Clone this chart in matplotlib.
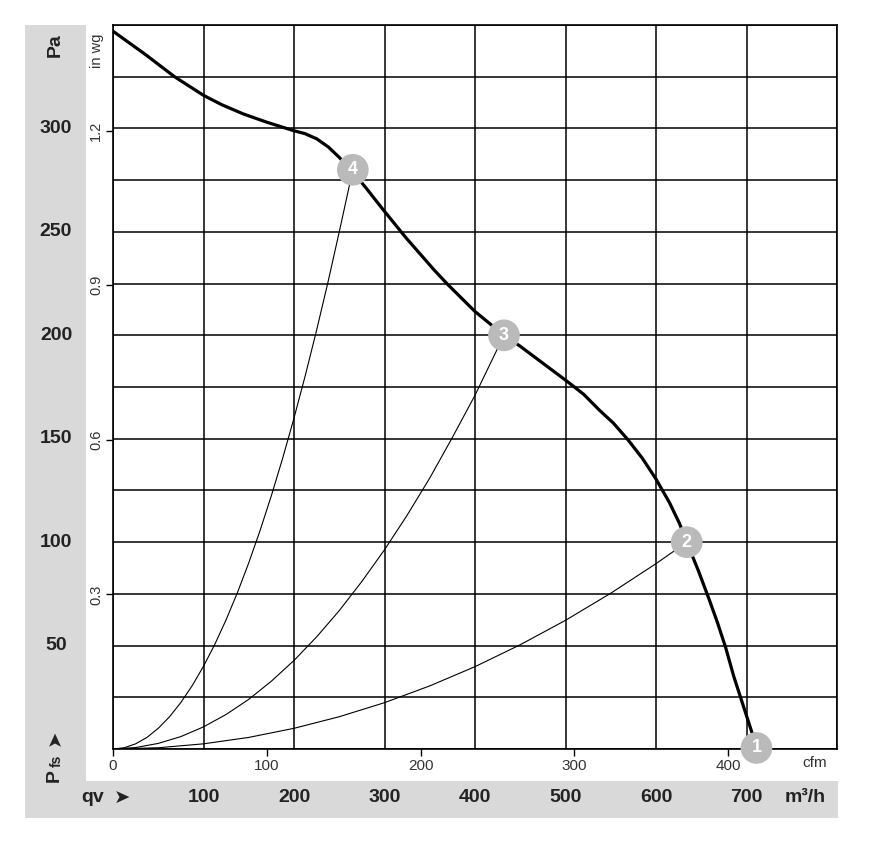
import matplotlib
matplotlib.use("Agg")
import matplotlib.pyplot as plt
import matplotlib.transforms as mtransforms
from matplotlib.patches import Rectangle

plt.rcParams["font.family"] = ["Liberation Sans", "DejaVu Sans"]

# Fan curve (m3/h, Pa)
fan_q = [0, 35, 68, 100, 120, 144, 170, 199, 212, 225, 238, 250, 265, 280, 298,
         324, 340, 355, 370, 400, 432, 449, 475, 501, 520, 537, 553, 569, 585,
         600, 615, 626, 634, 647, 659, 668, 677, 686, 696, 706, 711]
fan_p = [347, 336, 325, 316, 311.5, 307, 303, 299, 297.5, 295, 291, 286, 279, 271,
         261, 247, 239, 231.5, 224.5, 211.5, 200, 195, 186.5, 178, 171.5, 164,
         157.5, 149.5, 140.5, 130.5, 119, 109, 100, 86, 72, 61, 49, 35, 21.5, 8, 1]

# System curves towards operating points 4, 3, 2
sys4_q = [0, 12.5, 25, 37.5, 50, 62.5, 75, 87.5, 100, 112.5, 125, 137.5, 150,
          162.5, 175, 187.5, 200, 212.5, 225, 237.5, 250, 265]
sys4_p = [0, 0.6, 2.5, 5.6, 10, 15.6, 22.5, 30.6, 40, 50.6, 62.5, 75.6, 90,
          105.6, 122.5, 140.6, 160, 180.6, 202.5, 225.6, 250, 280]
sys3_q = [0, 25, 50, 75, 100, 125, 150, 175, 200, 225, 250, 275, 300, 325, 350,
          375, 400, 432]
sys3_p = [0, 0.7, 2.7, 6, 10.7, 16.7, 24, 32.8, 42.8, 54.2, 66.9, 81, 96.3, 113,
          131, 150.6, 171, 200]
sys2_q = [0, 50, 100, 150, 200, 250, 300, 350, 400, 450, 500, 550, 600, 634]
sys2_p = [0, 0.6, 2.5, 5.6, 10, 15.6, 22.4, 30.5, 39.8, 50.4, 62.2, 75.3, 89.6, 100]

# Operating points
pt_labels = ["1", "2", "3", "4"]
pt_q = [711, 634, 432, 265]
pt_p = [0.5, 100, 200, 280]

pa_ticks = [50, 100, 150, 200, 250, 300]
m3h_ticks = [100, 200, 300, 400, 500, 600, 700]
cfm_ticks = [0, 100, 200, 300, 400]
inwg_ticks = [0.3, 0.6, 0.9, 1.2]

W, H = 871, 859
fig = plt.figure(figsize=(W / 100, H / 100), dpi=100)

# Grey frame with white inner field
fig.patches.append(Rectangle((25 / W, (H - 818) / H), (838 - 25) / W, (818 - 25) / H,
                             transform=fig.transFigure, facecolor="#d9d9d9",
                             edgecolor="none", zorder=-3))
fig.patches.append(Rectangle((86 / W, (H - 781) / H), (838 - 86) / W, (781 - 25) / H,
                             transform=fig.transFigure, facecolor="white",
                             edgecolor="none", zorder=-2))

ax = fig.add_axes([113 / W, (H - 749) / H, 724 / W, 724 / H])
ax.set_zorder(2)
ax.set_xlim(0, 800)
ax.set_ylim(0, 350)
ax.set_xticks(range(0, 801, 100))
ax.set_yticks(range(0, 351, 25))
ax.tick_params(length=0, labelbottom=False, labelleft=False)
ax.grid(color="black", linewidth=1.1)
for s in ax.spines.values():
    s.set_linewidth(1.2)

for q, p in [(sys4_q, sys4_p), (sys3_q, sys3_p), (sys2_q, sys2_p)]:
    ax.plot(q, p, color="black", linewidth=0.8, zorder=3)
ax.plot(fan_q, fan_p, color="black", linewidth=2.3, zorder=4, clip_on=False,
        solid_joinstyle="round", solid_capstyle="butt")

ax.scatter(pt_q, pt_p, s=520, color="#bababa", edgecolors="none", zorder=5, clip_on=False)
for lab, q, p in zip(pt_labels, pt_q, pt_p):
    ax.text(q, p, lab, color="white", fontsize=13, fontweight="bold",
            ha="center", va="center", zorder=6, clip_on=False)

# Secondary axes: cfm and in wg
sec_x = ax.secondary_xaxis("bottom", functions=(lambda q: q / 1.699, lambda c: c * 1.699))
sec_x.set_xticks(cfm_ticks)
sec_x.tick_params(direction="out", length=5, width=1, pad=2, labelsize=11,
                  labelcolor="#333333")
sec_x.spines["bottom"].set_visible(False)

sec_y = ax.secondary_yaxis("left", functions=(lambda p: p / 249.09, lambda w: w * 249.09))
sec_y.set_yticks(inwg_ticks)
sec_y.set_yticklabels([f"{v:.1f}" for v in inwg_ticks], rotation=90, va="center")
sec_y.tick_params(direction="out", length=5, width=1, pad=2, labelsize=10.5,
                  labelcolor="#333333")
sec_y.spines["left"].set_visible(False)

fig.text(97 / W, (H - 51) / H, "in wg", rotation=90, ha="center", va="center",
         fontsize=10.5, color="#333333")
fig.text(815 / W, (H - 763) / H, "cfm", ha="center", va="center",
         fontsize=11, color="#333333")

# Bold labels in the grey band
trans_y = mtransforms.blended_transform_factory(fig.transFigure, ax.transData)
for v in pa_ticks:
    ax.text(56 / W, v, str(v), transform=trans_y, ha="center", va="center",
            fontsize=14, fontweight="bold", color="#222222", clip_on=False)

trans_x = mtransforms.blended_transform_factory(ax.transData, fig.transFigure)
for v in m3h_ticks:
    ax.text(v, (H - 798) / H, str(v), transform=trans_x, ha="center", va="center",
            fontsize=14, fontweight="bold", color="#222222", clip_on=False)

fig.text(805 / W, (H - 798) / H, "m³/h", ha="center", va="center",
         fontsize=14, fontweight="bold", color="#222222")
fig.text(93 / W, (H - 798) / H, "qv", ha="center", va="center",
         fontsize=14, fontweight="bold", color="#222222")
fig.text(122 / W, (H - 798) / H, "➤", ha="center", va="center",
         fontsize=14, color="#222222", family=["DejaVu Sans"])

fig.text(55 / W, (H - 45) / H, "Pa", rotation=90, ha="center", va="center",
         fontsize=14, fontweight="bold", color="#222222")
fig.text(54 / W, (H - 776) / H, "P", rotation=90, ha="center", va="center",
         fontsize=14, fontweight="bold", color="#222222")
fig.text(57 / W, (H - 761) / H, "fs", rotation=90, ha="center", va="center",
         fontsize=10, fontweight="bold", color="#222222")
fig.text(55 / W, (H - 738) / H, "➤", rotation=90, ha="center", va="center",
         fontsize=14, color="#222222", family=["DejaVu Sans"])

fig.savefig("out.png", dpi=100)
